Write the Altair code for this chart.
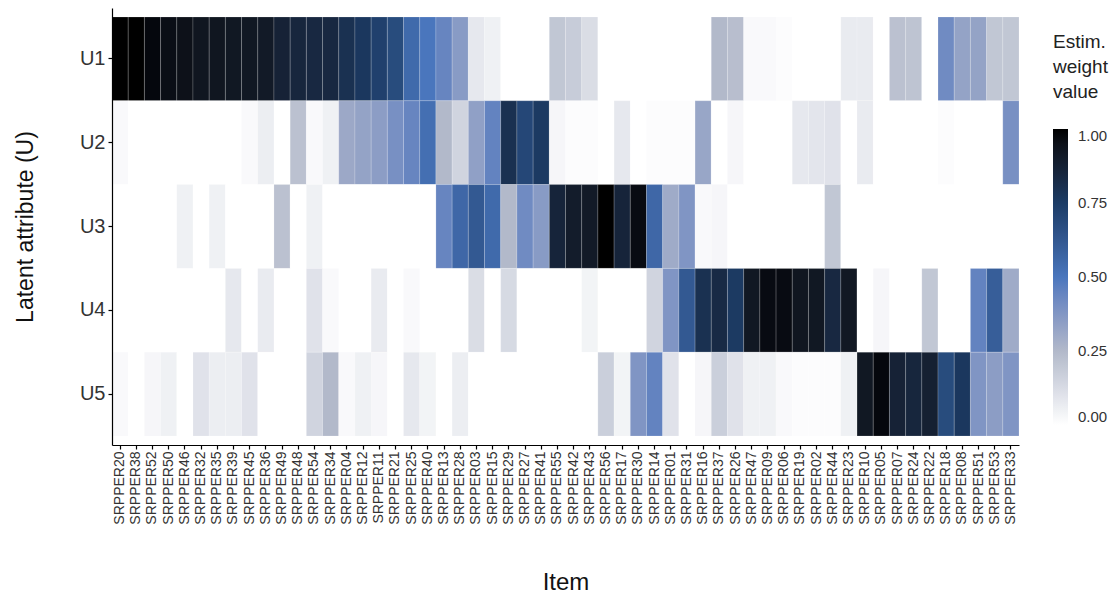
import altair as alt
import pandas as pd

items = ["SRPPER20", "SRPPER38", "SRPPER52", "SRPPER50", "SRPPER46", "SRPPER32", "SRPPER35",
         "SRPPER39", "SRPPER45", "SRPPER36", "SRPPER49", "SRPPER48", "SRPPER54", "SRPPER34",
         "SRPPER04", "SRPPER12", "SRPPER11", "SRPPER21", "SRPPER25", "SRPPER40", "SRPPER13",
         "SRPPER28", "SRPPER03", "SRPPER15", "SRPPER29", "SRPPER27", "SRPPER41", "SRPPER55",
         "SRPPER42", "SRPPER43", "SRPPER56", "SRPPER17", "SRPPER30", "SRPPER14", "SRPPER01",
         "SRPPER31", "SRPPER16", "SRPPER37", "SRPPER26", "SRPPER47", "SRPPER09", "SRPPER06",
         "SRPPER19", "SRPPER02", "SRPPER44", "SRPPER23", "SRPPER10", "SRPPER05", "SRPPER07",
         "SRPPER24", "SRPPER22", "SRPPER18", "SRPPER08", "SRPPER51", "SRPPER53", "SRPPER33"]

attributes = ["U1", "U2", "U3", "U4", "U5"]

u1 = [1.00, 1.00, 0.98, 0.96, 0.95, 0.93, 0.93, 0.92, 0.92, 0.91,
      0.87, 0.85, 0.84, 0.84, 0.80, 0.77, 0.73, 0.68, 0.55, 0.50,
      0.44, 0.36, 0.08, 0.05, 0.00, 0.00, 0.00, 0.20, 0.18, 0.12,
      0.00, 0.00, 0.00, 0.00, 0.00, 0.00, 0.00, 0.25, 0.23, 0.02,
      0.02, 0.01, 0.00, 0.00, 0.00, 0.07, 0.07, 0.00, 0.22, 0.21,
      0.00, 0.42, 0.33, 0.33, 0.20, 0.20]
u2 = [0.02, 0.00, 0.00, 0.00, 0.00, 0.00, 0.00, 0.00, 0.02, 0.06,
      0.00, 0.22, 0.02, 0.05, 0.31, 0.33, 0.35, 0.40, 0.44, 0.53,
      0.25, 0.15, 0.34, 0.45, 0.80, 0.70, 0.76, 0.03, 0.01, 0.01,
      0.00, 0.08, 0.00, 0.01, 0.01, 0.01, 0.32, 0.00, 0.03, 0.00,
      0.00, 0.00, 0.08, 0.09, 0.10, 0.00, 0.07, 0.00, 0.00, 0.00,
      0.00, 0.01, 0.00, 0.00, 0.00, 0.40]
u3 = [0.00, 0.00, 0.00, 0.00, 0.05, 0.00, 0.05, 0.00, 0.00, 0.00,
      0.22, 0.00, 0.05, 0.00, 0.00, 0.00, 0.00, 0.00, 0.00, 0.00,
      0.44, 0.56, 0.62, 0.55, 0.25, 0.42, 0.36, 0.86, 0.90, 0.91,
      1.00, 0.86, 0.97, 0.56, 0.30, 0.38, 0.02, 0.03, 0.00, 0.00,
      0.00, 0.00, 0.00, 0.00, 0.20, 0.00, 0.00, 0.00, 0.00, 0.00,
      0.00, 0.00, 0.00, 0.00, 0.00, 0.00]
u4 = [0.00, 0.00, 0.00, 0.00, 0.00, 0.00, 0.00, 0.08, 0.00, 0.07,
      0.00, 0.00, 0.10, 0.02, 0.00, 0.00, 0.07, 0.00, 0.02, 0.00,
      0.00, 0.00, 0.12, 0.00, 0.13, 0.00, 0.00, 0.00, 0.00, 0.04,
      0.00, 0.00, 0.00, 0.15, 0.38, 0.62, 0.80, 0.83, 0.76, 0.92,
      0.97, 0.97, 0.93, 0.92, 0.84, 0.92, 0.00, 0.03, 0.00, 0.00,
      0.20, 0.00, 0.00, 0.45, 0.60, 0.30]
u5 = [0.02, 0.00, 0.03, 0.05, 0.00, 0.10, 0.06, 0.06, 0.10, 0.00,
      0.00, 0.00, 0.15, 0.25, 0.02, 0.05, 0.03, 0.00, 0.08, 0.04,
      0.00, 0.06, 0.00, 0.00, 0.00, 0.00, 0.00, 0.00, 0.00, 0.00,
      0.17, 0.04, 0.38, 0.45, 0.10, 0.00, 0.03, 0.17, 0.10, 0.05,
      0.05, 0.02, 0.01, 0.01, 0.01, 0.05, 0.92, 0.98, 0.87, 0.85,
      0.88, 0.68, 0.77, 0.38, 0.35, 0.38]

legend_ticks = [0.0, 0.25, 0.5, 0.75, 1.0]
color_stops = ["#ffffff", "#b2b9ca", "#4a76bd", "#1c3c66", "#000000"]

rows = []
for attr, vals in zip(attributes, [u1, u2, u3, u4, u5]):
    for it, v in zip(items, vals):
        rows.append({"Item": it, "U": attr, "w": v})
df = pd.DataFrame(rows)

chart = alt.Chart(df).mark_rect(
    stroke="white", strokeWidth=0.5, strokeOpacity=0.35
).encode(
    x=alt.X("Item:N", sort=items,
            scale=alt.Scale(paddingInner=0, paddingOuter=0),
            axis=alt.Axis(title="Item", labelAngle=270, labelFontSize=14,
                          labelColor="#333333", labelPadding=2, tickSize=4,
                          titleFontSize=24, titleFontWeight="normal",
                          titleColor="#111111", titleX=453.5, titleY=137,
                          titleBaseline="middle", titleAlign="center")),
    y=alt.Y("U:N", sort=attributes,
            scale=alt.Scale(paddingInner=0, paddingOuter=0.107),
            axis=alt.Axis(title="Latent attribute (U)", labelFontSize=20,
                          labelColor="#333333", labelPadding=3, tickSize=4,
                          titleFontSize=23, titleFontWeight="normal",
                          titleColor="#111111", titleAngle=270,
                          titleX=-87, titleY=218.5, titleBaseline="middle",
                          titleAlign="center")),
    color=alt.Color("w:Q",
                    scale=alt.Scale(domain=legend_ticks, range=color_stops,
                                    interpolate="lab"),
                    legend=alt.Legend(title=["Estim.", "weight", "value"],
                                      orient="none", legendX=941, legendY=25,
                                      direction="vertical",
                                      gradientLength=296, gradientThickness=15,
                                      values=legend_ticks, format=".2f",
                                      titleFontSize=19, titleFontWeight="normal",
                                      titleLineHeight=25, titleColor="#222222",
                                      titlePadding=27, labelFontSize=15,
                                      labelColor="#333333", labelOffset=10,
                                      padding=0, gradientStrokeWidth=0)),
).properties(
    width=907, height=437,
    autosize=alt.AutoSizeParams(type="none"),
    padding={"left": 104, "top": 0, "right": 92, "bottom": 149},
).configure(
    font="Liberation Sans",
).configure_axis(
    domainColor="black", domainWidth=1.2, tickColor="black", tickWidth=1.2,
    grid=False,
).configure_view(
    stroke=None,
)

chart.save("out.html", embed_options={"renderer": "svg", "actions": False})
